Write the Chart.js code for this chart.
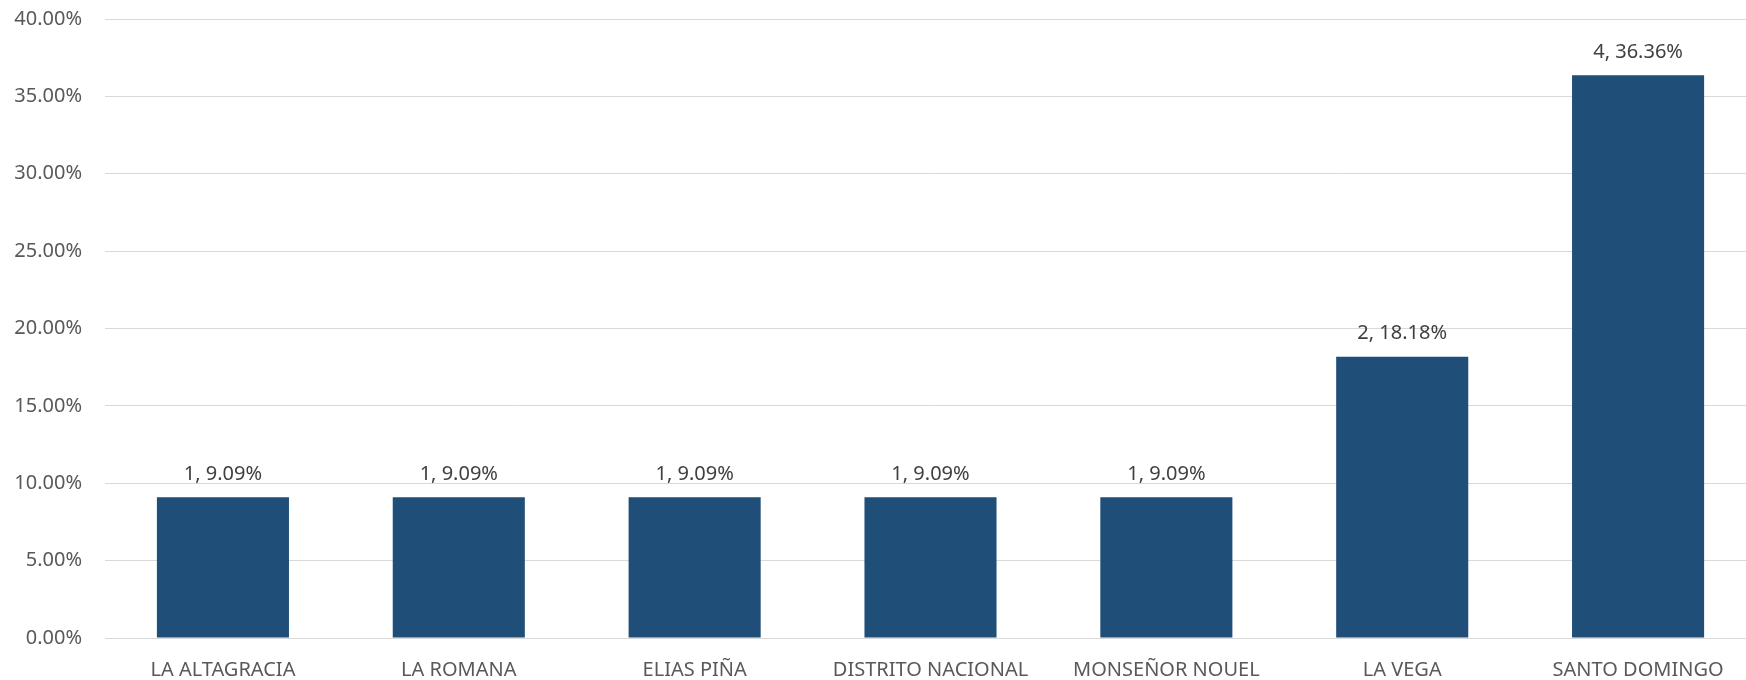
<!DOCTYPE html>
<html>
<head>
<meta charset="utf-8">
<script src="https://cdn.jsdelivr.net/npm/chart.js@4"></script>
<style>
  html, body { margin: 0; padding: 0; background: #fff; overflow: hidden; }
  #wrap { width: 1756px; height: 680px; }
</style>
</head>
<body>
<div id="wrap"><canvas id="grafico"></canvas></div>
<script>
const provincias = ["LA ALTAGRACIA", "LA ROMANA", "ELIAS PIÑA", "DISTRITO NACIONAL", "MONSEÑOR NOUEL", "LA VEGA", "SANTO DOMINGO"];
const cantidades = [1, 1, 1, 1, 1, 2, 4];
const porcentajes = [0.0909, 0.0909, 0.0909, 0.0909, 0.0909, 0.1818, 0.3636];
const ticksY = [0, 0.05, 0.10, 0.15, 0.20, 0.25, 0.30, 0.35, 0.40];

const fuente = "'Noto Sans', sans-serif";

// etiquetas "n, xx.xx%" encima de cada barra
const etiquetas = {
    id: 'etiquetas',
    afterDatasetsDraw(chart) {
        const ctx = chart.ctx;
        const meta = chart.getDatasetMeta(0);
        ctx.save();
        ctx.font = "20px " + fuente;
        ctx.fillStyle = '#404040';
        ctx.textAlign = 'center';
        ctx.textBaseline = 'middle';
        meta.data.forEach((bar, i) => {
            const txt = cantidades[i] + ', ' + (porcentajes[i] * 100).toFixed(2) + '%';
            ctx.fillText(txt, bar.x, bar.y - 23);
        });
        ctx.restore();
    }
};

const ctx = document.getElementById('grafico').getContext('2d');
const grafico = new Chart(ctx, {
    type: 'bar',
    data: {
        labels: provincias,
        datasets: [{
            data: porcentajes,
            backgroundColor: '#1F4E79',
            borderWidth: 0,
            barPercentage: 0.56,
            categoryPercentage: 1
        }]
    },
    options: {
        responsive: true,
        maintainAspectRatio: false,
        animation: false,
        layout: { padding: { top: 19, left: 0, right: 0, bottom: 0 } },
        plugins: {
            legend: { display: false },
            tooltip: { enabled: false }
        },
        scales: {
            x: {
                grid: { display: false, drawTicks: false },
                border: { display: true, color: '#D9D9D9', width: 1 },
                ticks: {
                    color: '#595959',
                    font: { family: fuente, size: 20 },
                    padding: 20,
                    maxRotation: 0,
                    autoSkip: false
                },
                afterFit(scale) {
                    scale.height = 42;
                    scale.paddingLeft = 0;
                    scale.paddingRight = 0;
                }
            },
            y: {
                min: 0,
                max: 0.4,
                afterBuildTicks(scale) {
                    scale.ticks = ticksY.map(v => ({ value: v }));
                },
                grid: { color: '#D9D9D9', lineWidth: 1, drawTicks: false },
                border: { display: false },
                ticks: {
                    color: '#595959',
                    font: { family: fuente, size: 20 },
                    padding: 23,
                    callback: v => (v * 100).toFixed(2) + '%'
                },
                afterFit(scale) {
                    scale.width = 105;
                    scale.paddingTop = 0;
                    scale.paddingBottom = 0;
                }
            }
        }
    },
    plugins: [etiquetas]
});
</script>
</body>
</html>
